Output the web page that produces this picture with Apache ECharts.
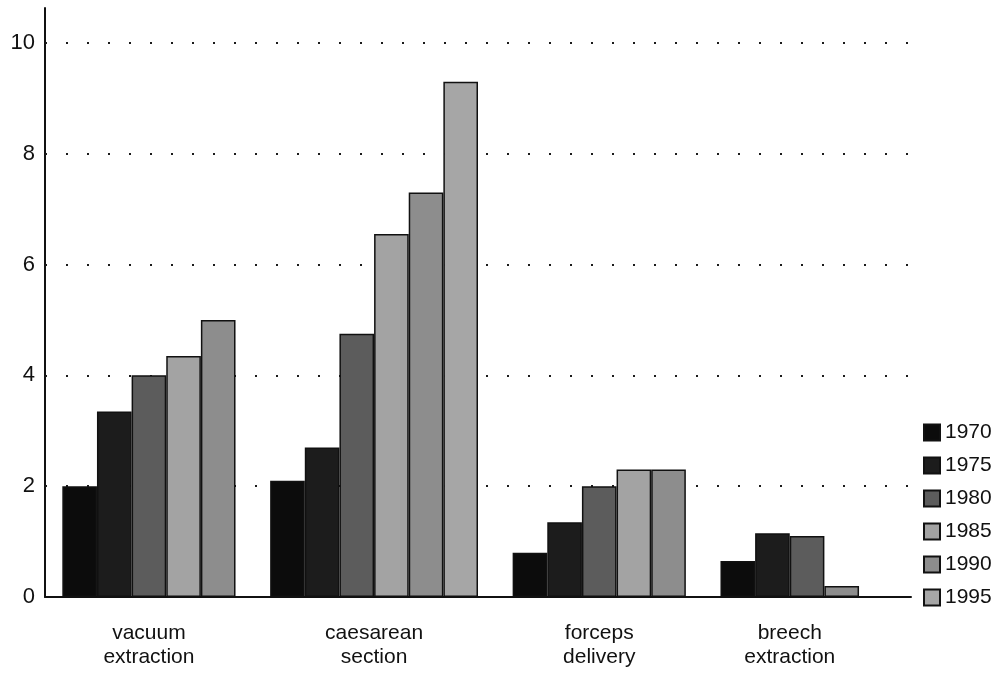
<!DOCTYPE html>
<html>
<head>
<meta charset="utf-8">
<script src="https://cdn.jsdelivr.net/npm/echarts@6/dist/echarts.min.js"></script>
<style>
  html, body { margin: 0; padding: 0; background: #ffffff; }
  #chart { width: 1006px; height: 678px; }
</style>
</head>
<body>
<div id="chart"></div>
<script>
// ---- data ----
const categories = ['vacuum\nextraction', 'caesarean\nsection', 'forceps\ndelivery', 'breech\nextraction'];
const years = ['1970', '1975', '1980', '1985', '1990', '1995'];
const v1970 = [2.0, 2.1, 0.8, 0.65];
const v1975 = [3.35, 2.7, 1.35, 1.15];
const v1980 = [4.0, 4.75, 2.0, 1.1];
const v1985 = [4.35, 6.55, 2.3, null];
const v1990 = [5.0, 7.3, 2.3, 0.2];
const v1995 = [null, 9.3, null, null];
const yTicks = [0, 2, 4, 6, 8, 10];

const seriesValues = [v1970, v1975, v1980, v1985, v1990, v1995];
const colors = ['#0c0c0c', '#1c1c1c', '#5c5c5c', '#a3a3a3', '#8d8d8d', '#a6a6a6'];

// ---- slot layout: one slot per bar, one empty slot between groups ----
const slotNames = ['lead'];
const slotData = years.map(() => [null]);
const groupCenters = [];
categories.forEach((c, g) => {
  const first = slotNames.length;
  years.forEach((y, k) => {
    const v = seriesValues[k][g];
    if (v === null || v === undefined) return;
    slotNames.push('s' + slotNames.length);
    years.forEach((yy, kk) => slotData[kk].push(kk === k ? v : null));
  });
  const last = slotNames.length - 1;
  groupCenters.push((first + last) / 2);
  slotNames.push('gap' + g);
  years.forEach((yy, kk) => slotData[kk].push(null));
});
slotNames.push('tail');
years.forEach((yy, kk) => slotData[kk].push(null));

const FONT = '"Liberation Sans", Arial, Helvetica, sans-serif';

const series = years.map((y, k) => ({
  name: y,
  type: 'bar',
  xAxisIndex: 0,
  data: slotData[k],
  barWidth: '100%',
  barGap: '-100%',
  itemStyle: { color: colors[k], borderColor: '#111111', borderWidth: 1.5 },
  z: 2
}));

series[0].markLine = {
  silent: true,
  z: 1,
  symbol: ['none', 'none'],
  label: { show: false },
  lineStyle: { type: [2, 19], width: 2, color: '#1a1a1a' },
  data: yTicks.filter(t => t > 0).map(t => ({ yAxis: t }))
};

const chart = echarts.init(document.getElementById('chart'));
chart.setOption({
  backgroundColor: '#ffffff',
  animation: false,
  textStyle: { fontFamily: FONT },
  grid: { left: 45, right: 95, top: 8, bottom: 81 },
  legend: {
    orient: 'vertical',
    left: 918,
    top: 417,
    itemWidth: 16,
    itemHeight: 16,
    itemGap: 12,
    icon: 'rect',
    data: years,
    textStyle: { fontSize: 21, color: '#111', fontFamily: FONT, lineHeight: 16 }
  },
  xAxis: [
    {
      type: 'category',
      data: slotNames,
      boundaryGap: false,
      axisLine: { show: true, lineStyle: { color: '#111', width: 2 } },
      axisTick: { show: false },
      axisLabel: { show: false },
      splitLine: { show: false }
    },
    {
      type: 'value',
      position: 'bottom',
      min: 0,
      max: slotNames.length - 1,
      axisLine: { show: false },
      axisTick: { show: false },
      splitLine: { show: false },
      axisLabel: {
        show: true,
        customValues: groupCenters,
        margin: 24,
        fontSize: 21,
        lineHeight: 24,
        color: '#111',
        fontFamily: FONT,
        formatter: function (val) {
          for (let i = 0; i < groupCenters.length; i++) {
            if (Math.abs(groupCenters[i] - val) < 1e-6) return categories[i];
          }
          return '';
        }
      }
    }
  ],
  yAxis: {
    type: 'value',
    min: 0,
    max: 10.63,
    interval: 2,
    axisLine: { show: true, lineStyle: { color: '#111', width: 2 } },
    axisTick: { show: false },
    splitLine: { show: false },
    axisLabel: {
      fontSize: 22,
      color: '#111',
      margin: 10,
      fontFamily: FONT,
      formatter: function (v) { return yTicks.indexOf(v) >= 0 ? String(v) : ''; }
    }
  },
  series: series
});
</script>
</body>
</html>
